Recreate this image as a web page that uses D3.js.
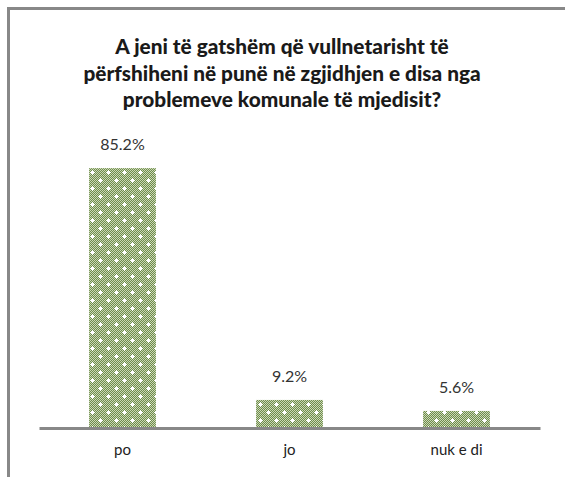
<!DOCTYPE html>
<html>
<head>
<meta charset="utf-8">
<script src="https://cdn.jsdelivr.net/npm/d3@7"></script>
<style>
  body { margin: 0; background: #fff; }
  svg { display: block; }
</style>
</head>
<body>
<div id="chart"></div>
<script>
// data
const categories = ["po", "jo", "nuk e di"];
const values = [85.2, 9.2, 5.6];
const titleLines = [
  "A jeni të gatshëm që vullnetarisht të",
  "përfshiheni në punë në zgjidhjen e disa nga",
  "problemeve komunale të mjedisit?"
];

const W = 565, H = 477;
const svg = d3.select("#chart").append("svg")
  .attr("width", W)
  .attr("height", H);

// pattern fill for the bars
const defs = svg.append("defs");
const pat = defs.append("pattern")
  .attr("id", "dots")
  .attr("patternUnits", "userSpaceOnUse")
  .attr("width", 16)
  .attr("height", 16);
pat.append("rect").attr("width", 16).attr("height", 16).attr("fill", "#6e8c4c");
// fine checker
for (let i = 0; i < 16; i++) {
  for (let j = 0; j < 16; j++) {
    if ((i + j) % 2 === 0) {
      pat.append("rect").attr("x", i).attr("y", j).attr("width", 1).attr("height", 1).attr("fill", "#cbd8b5");
    }
  }
}
// white dots, staggered
[[4, 4], [12, 12]].forEach(([cx, cy]) => {
  pat.append("rect").attr("x", cx - 1).attr("y", cy - 1).attr("width", 3).attr("height", 3).attr("fill", "#fff");
  pat.append("rect").attr("x", cx - 2).attr("y", cy).attr("width", 5).attr("height", 1).attr("fill", "#fff");
  pat.append("rect").attr("x", cx).attr("y", cy - 2).attr("width", 1).attr("height", 5).attr("fill", "#fff");
});

// chart frame (only left and top visible in the crop)
svg.append("path")
  .attr("d", `M8.5,${H} V8.5 H${W}`)
  .attr("fill", "none")
  .attr("stroke", "#888")
  .attr("stroke-width", 3);

// title
svg.append("g")
  .selectAll("text")
  .data(titleLines)
  .join("text")
  .attr("x", 282)
  .attr("y", (d, i) => 54 + i * 26.5)
  .attr("text-anchor", "middle")
  .style("font-family", "Lato, sans-serif")
  .style("font-weight", "900")
  .style("font-size", "20.8px")
  .attr("fill", "#1a1a1a")
  .text(d => d);

// scales
const x = d3.scaleBand()
  .domain(categories)
  .range([39, 540])
  .paddingInner(0.6)
  .paddingOuter(0.3);

const y = d3.scaleLinear()
  .domain([0, 100])
  .range([428, 428 - 305]);

// bars
svg.append("g")
  .selectAll("rect")
  .data(values)
  .join("rect")
  .attr("x", (d, i) => x(categories[i]))
  .attr("y", d => y(d))
  .attr("width", x.bandwidth())
  .attr("height", d => y(0) - y(d))
  .attr("fill", "url(#dots)");

// value labels
svg.append("g")
  .selectAll("text")
  .data(values)
  .join("text")
  .attr("x", (d, i) => x(categories[i]) + x.bandwidth() / 2)
  .attr("y", d => y(d) - 18)
  .attr("text-anchor", "middle")
  .style("font-family", "Lato, sans-serif")
  .style("font-size", "16px")
  .attr("fill", "#333")
  .text(d => d.toFixed(1) + "%");

// x axis
const xAxis = svg.append("g")
  .attr("transform", "translate(0,428)")
  .call(d3.axisBottom(x).tickSize(0).tickPadding(16));
xAxis.select(".domain")
  .attr("stroke", "#888")
  .attr("stroke-width", 3);
xAxis.selectAll("text")
  .style("font-family", "Lato, sans-serif")
  .style("font-size", "15px")
  .attr("fill", "#222");
</script>
</body>
</html>
